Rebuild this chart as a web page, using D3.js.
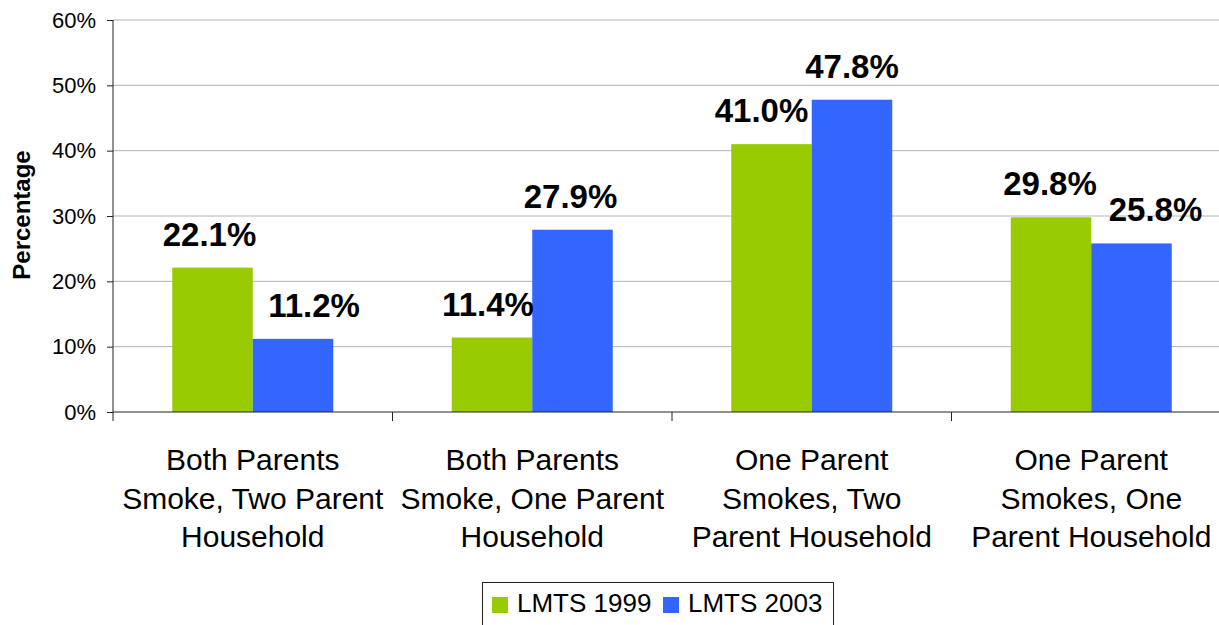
<!doctype html>
<html>
<head>
<meta charset="utf-8">
<title>Parental smoking</title>
<script src="https://d3js.org/d3.v7.min.js"></script>
<style>
  body { margin: 0; background: #fff; }
  svg { display: block; font-family: "Liberation Sans", Arial, sans-serif; }
</style>
</head>
<body>
<svg id="chart" width="1219" height="625"></svg>
<script>
// data
const categories = [
  ["Both Parents", "Smoke, Two Parent", "Household"],
  ["Both Parents", "Smoke, One Parent", "Household"],
  ["One Parent", "Smokes, Two", "Parent Household"],
  ["One Parent", "Smokes, One", "Parent Household"]
];
const seriesNames = ["LMTS 1999", "LMTS 2003"];
const lmts1999 = [22.1, 11.4, 41.0, 29.8];
const lmts2003 = [11.2, 27.9, 47.8, 25.8];
const yTicks = [0, 10, 20, 30, 40, 50, 60];

const colors = ["#99cc00", "#3366ff"];
// label nudges, excel moves some labels sideways
const labelDx = [[-3, 21], [-4, -2], [-10, 0], [-1, 24]];

const svg = d3.select("#chart");
const margin = {left: 113, top: 20, right: -12, bottom: 213};
const width = 1219 - margin.left - margin.right,
      height = 625 - margin.top - margin.bottom;

const g = svg.append("g").attr("transform", `translate(${margin.left},${margin.top})`);

const x0 = d3.scaleBand().domain(d3.range(categories.length)).range([0, width]).paddingInner(0).paddingOuter(0);
const x1 = d3.scaleBand().domain([0, 1]).range([0, x0.bandwidth()]).paddingInner(0).paddingOuter(0.736);
const y = d3.scaleLinear().domain([0, 60]).range([height, 0]);

// gridlines
g.append("g").selectAll("line")
  .data(yTicks.filter(d => d > 0))
  .join("line")
  .attr("x1", 0).attr("x2", width)
  .attr("y1", d => y(d)).attr("y2", d => y(d))
  .attr("stroke", "#b4b4b4").attr("stroke-width", 1);

// bars
const rows = categories.map((c, i) => [lmts1999[i], lmts2003[i]]);
const groups = g.append("g").selectAll("g")
  .data(rows)
  .join("g")
  .attr("transform", (d, i) => `translate(${x0(i)},0)`);

groups.selectAll("rect")
  .data(d => d)
  .join("rect")
  .attr("x", (d, j) => x1(j))
  .attr("y", d => y(d))
  .attr("width", x1.bandwidth())
  .attr("height", d => height - y(d))
  .attr("fill", (d, j) => colors[j]);

groups.each(function(d, i) {
  d3.select(this).selectAll("text")
    .data(d)
    .join("text")
    .attr("x", (v, j) => x1(j) + x1.bandwidth() / 2 + labelDx[i][j])
    .attr("y", v => y(v) - 22)
    .attr("text-anchor", "middle")
    .attr("font-weight", "bold")
    .attr("font-size", 33)
    .attr("fill", "#000")
    .text(v => v.toFixed(1) + "%");
});

// y axis
const yAxis = g.append("g")
  .call(d3.axisLeft(y).tickValues(yTicks).tickFormat(d => d + "%").tickSize(6).tickPadding(11));
yAxis.select(".domain").attr("stroke", "#222").attr("d", `M0,${height}V0`);
yAxis.selectAll(".tick line").attr("stroke", "#222");
yAxis.selectAll("text").attr("font-size", 22).attr("fill", "#000").attr("font-family", "Liberation Sans, Arial, sans-serif");

// x axis
const xAxis = g.append("g").attr("transform", `translate(0,${height})`);
xAxis.append("line").attr("x1", 0).attr("x2", width).attr("stroke", "#222");
xAxis.selectAll("line.tk")
  .data(d3.range(categories.length + 1))
  .join("line")
  .attr("class", "tk")
  .attr("x1", i => i * x0.bandwidth()).attr("x2", i => i * x0.bandwidth())
  .attr("y1", 0).attr("y2", 9)
  .attr("stroke", "#222");

xAxis.selectAll("text.cat")
  .data(categories)
  .join("text")
  .attr("class", "cat")
  .attr("text-anchor", "middle")
  .attr("font-size", 30)
  .attr("fill", "#000")
  .attr("transform", (d, i) => `translate(${x0(i) + x0.bandwidth() / 2},0)`)
  .selectAll("tspan")
  .data(d => d)
  .join("tspan")
  .attr("x", 0)
  .attr("y", (d, k) => 58 + k * 38.5)
  .text(d => d);

// axis title
svg.append("text")
  .attr("transform", "translate(30,215) rotate(-90)")
  .attr("text-anchor", "middle")
  .attr("font-weight", "bold")
  .attr("font-size", 24)
  .text("Percentage");

// legend
const legend = svg.append("g").attr("transform", "translate(482,582)");
legend.append("rect")
  .attr("x", 0.5).attr("y", 0.5).attr("width", 351).attr("height", 50)
  .attr("fill", "#fff").attr("stroke", "#222");
const li = legend.selectAll("g.item")
  .data(seriesNames)
  .join("g")
  .attr("class", "item")
  .attr("transform", (d, i) => `translate(${10 + i * 171},0)`);
li.append("rect")
  .attr("y", 15).attr("width", 16).attr("height", 16)
  .attr("fill", (d, i) => colors[i]);
li.append("text")
  .attr("x", 25).attr("y", 30)
  .attr("font-size", 26)
  .text(d => d);
</script>
</body>
</html>
